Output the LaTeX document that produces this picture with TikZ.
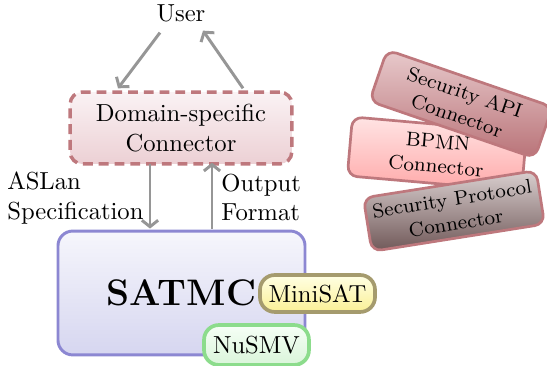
\documentclass[tikz,border=0pt]{standalone}
\usetikzlibrary{calc,shapes.misc,arrows.meta}
\definecolor{domborder}{RGB}{190,120,125}
\definecolor{domtop}{RGB}{250,242,244}
\definecolor{dombot}{RGB}{236,208,212}
\definecolor{sattop}{RGB}{246,246,252}
\definecolor{satbot}{RGB}{214,214,240}
\definecolor{satborder}{RGB}{140,135,210}
\definecolor{mstop}{RGB}{255,255,228}
\definecolor{msbot}{RGB}{250,240,150}
\definecolor{msborder}{RGB}{165,155,110}
\definecolor{nutop}{RGB}{246,255,246}
\definecolor{nubot}{RGB}{218,245,218}
\definecolor{nuborder}{RGB}{140,220,140}
\definecolor{apitop}{RGB}{232,202,204}
\definecolor{apibot}{RGB}{185,115,120}
\definecolor{bptop}{RGB}{255,228,228}
\definecolor{bpbot}{RGB}{255,168,168}
\definecolor{prtop}{RGB}{218,208,208}
\definecolor{prbot}{RGB}{112,88,88}
\definecolor{arrgray}{RGB}{150,150,150}
\tikzset{
  arr/.style={-{Straight Barb[length=2.6pt,width=6.6pt]},draw=arrgray,line width=1.2pt},
  lbl/.style={inner sep=0pt,align=left},
  conn/.style={rounded corners=4pt,draw=domborder,line width=1.1pt,align=center,inner sep=0pt,font=\fontsize{8.1}{10}\selectfont},
}
\begin{document}
\begin{tikzpicture}[x=0.406pt,y=-0.406pt]
\useasboundingbox (0,0) rectangle (547,366);
% right connectors
\node[conn,top color=bptop,bottom color=bpbot,minimum width=71pt,minimum height=24pt,rotate=-5] (bpmn) at (437,154) {BPMN\\Connector};
\node[conn,top color=apitop,bottom color=apibot,minimum width=71pt,minimum height=22pt,rotate=-19] (api) at (461,104) {Security API\\Connector};
\node[conn,top color=prtop,bottom color=prbot,minimum width=71pt,minimum height=22pt,rotate=9] (prot) at (454,211) {Security Protocol\\Connector};
% main
\node[inner sep=1pt] (user) at (181,13) {User};
\node[rounded corners=4.9pt,draw=domborder,line width=1.4pt,dash pattern=on 4pt off 2.4pt,top color=domtop,bottom color=dombot,minimum width=90pt,minimum height=29.2pt,align=center,inner sep=0pt] (dom) at (181,128) {Domain-specific\\Connector};
\node[rounded corners=6pt,draw=satborder,line width=1.2pt,top color=sattop,bottom color=satbot,minimum width=100.3pt,minimum height=50.3pt,inner sep=0pt] (sat) at (181.5,293) {\fontsize{15}{18}\selectfont\bfseries SATMC};
\node[rounded corners=6pt,draw=msborder,line width=1.5pt,top color=mstop,bottom color=msbot,minimum width=46.7pt,minimum height=15pt,inner sep=0pt] (mini) at (317.5,293.5) {MiniSAT};
\node[rounded corners=6pt,draw=nuborder,line width=1.5pt,top color=nutop,bottom color=nubot,minimum width=42.6pt,minimum height=16.2pt,inner sep=0pt] (nusmv) at (256.5,345) {NuSMV};
% arrows
\draw[arr] ($(user.south)+(-21,8)$) -- ($(dom.north)+(-63,-2)$);
\draw[arr] ($(dom.north)+(62,-2)$) -- ($(user.south)+(22,6)$);
\draw[arr] ($(dom.south)+(-31,-2)$) -- ($(sat.north)+(-31.5,-1)$) coordinate[pos=0.5] (m1);
\draw[arr] ($(sat.north)+(30.5,-1)$) -- ($(dom.south)+(31,-3)$) coordinate[pos=0.5] (m2);
\node[lbl,anchor=east] (aslan) at ($(m1)+(-6,2)$) {ASLan\\Specification};
\node[lbl,anchor=west] (outf) at ($(m2)+(9,2)$) {Output\\Format};
\end{tikzpicture}
\end{document}
